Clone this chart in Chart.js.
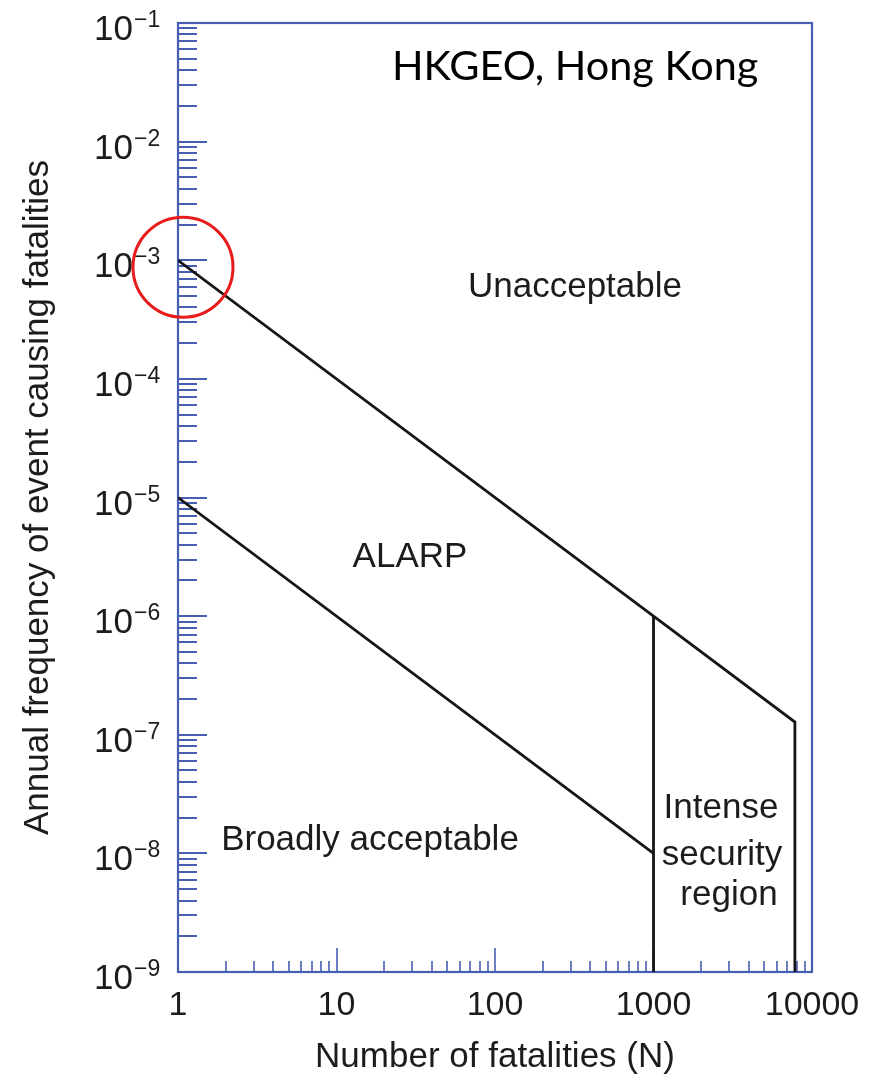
<!DOCTYPE html>
<html><head><meta charset="utf-8">
<script src="https://cdn.jsdelivr.net/npm/chart.js@4/dist/chart.umd.min.js"></script>
<style>html,body{margin:0;padding:0;background:#fff}canvas{display:block}</style>
</head><body>
<canvas id="c" width="889" height="1080" style="width:889px;height:1080px"></canvas>
<script>
// ---- data ----
const xTickValues = [1, 10, 100, 1000, 10000];
const xTickLabels = ['1', '10', '100', '1000', '10000'];
const yTickExponents = [-9, -8, -7, -6, -5, -4, -3, -2, -1];
const upperN = [1, 1000, 7800, 7800];
const upperF = [1e-3, 1e-6, 1.28e-7, 1e-9];
const lowerN = [1, 1000];
const lowerF = [1e-5, 1e-8];
const dividerN = [1000, 1000];
const dividerF = [1e-6, 1e-9];
const highlightN = [1];
const highlightF = [1e-3];
const regionLabels = ['Unacceptable', 'ALARP', 'Broadly acceptable', 'Intense', 'security', 'region'];
const sourceLabel = 'HKGEO, Hong Kong';
const xTitle = 'Number of fatalities (N)';
const yTitle = 'Annual frequency of event causing fatalities';

// ---- layout / style ----
const labelPos = [[575, 297], [410, 567], [370, 850], [721, 818], [722, 865], [729, 905]];
const axisColor = 'rgb(72,94,178)';
const textColor = '#1c1c1c';
const lineColor = '#161616';
const mainFont = '"Liberation Sans", Arial, Helvetica, sans-serif';

const toPts = (xs, ys) => xs.map((x, i) => ({x: x, y: ys[i]}));

const overlay = {
  id: 'overlay',
  beforeDatasetsDraw(chart) {
    const {ctx, chartArea: ca} = chart;
    const xs = chart.scales.x, ys = chart.scales.y;
    ctx.save();
    ctx.strokeStyle = axisColor;
    // left axis ticks (inside)
    ctx.lineWidth = 2;
    const yMin = yTickExponents[0], yMax = yTickExponents[yTickExponents.length - 1];
    for (let e = yMin; e <= yMax; e++) {
      for (let k = 1; k <= 9; k++) {
        if (e === yMax && k > 1) break;
        const v = k * Math.pow(10, e);
        const py = Math.round(ys.getPixelForValue(v));
        const len = k === 1 ? 29 : 19;
        ctx.beginPath();
        ctx.moveTo(ca.left, py);
        ctx.lineTo(ca.left + len, py);
        ctx.stroke();
      }
    }
    // bottom axis ticks (inside)
    ctx.lineWidth = 1.6;
    for (let e = 0; e <= 4; e++) {
      for (let k = 1; k <= 9; k++) {
        if (e === 4 && k > 1) break;
        const v = k * Math.pow(10, e);
        const px = Math.round(xs.getPixelForValue(v));
        const len = k === 1 ? 24 : 11;
        ctx.beginPath();
        ctx.moveTo(px, ca.bottom);
        ctx.lineTo(px, ca.bottom - len);
        ctx.stroke();
      }
    }
    // frame
    ctx.lineWidth = 2.2;
    ctx.strokeRect(ca.left, ca.top, ca.right - ca.left, ca.bottom - ca.top);
    ctx.restore();
  },
  afterDraw(chart) {
    const {ctx, chartArea: ca} = chart;
    const xs = chart.scales.x, ys = chart.scales.y;
    ctx.save();
    // y tick labels with superscript exponents
    ctx.fillStyle = textColor;
    for (const e of yTickExponents) {
      const py = ys.getPixelForValue(Math.pow(10, e));
      const xr = ca.left - 45;
      ctx.font = '35px ' + mainFont;
      ctx.textAlign = 'right';
      ctx.textBaseline = 'alphabetic';
      ctx.fillText('10', xr, py + 17);
      ctx.font = '23px ' + mainFont;
      ctx.textAlign = 'left';
      ctx.fillText('\u2212' + Math.abs(e), xr + 1, py + 4);
    }
    // region labels
    ctx.font = '35px ' + mainFont;
    ctx.textAlign = 'center';
    ctx.textBaseline = 'alphabetic';
    regionLabels.forEach((t, i) => ctx.fillText(t, labelPos[i][0], labelPos[i][1]));
    // source label
    ctx.font = '47px Lato, "Open Sans", sans-serif';
    const w = ctx.measureText(sourceLabel).width;
    const fs = 47 * 366 / w;
    ctx.font = fs.toFixed(1) + 'px Lato, "Open Sans", sans-serif';
    ctx.textAlign = 'left';
    ctx.fillStyle = '#000';
    ctx.fillText(sourceLabel, 392, 80);
    // highlight circle
    const cx = xs.getPixelForValue(highlightN[0]) + 5;
    const cy = ys.getPixelForValue(highlightF[0]) + 7;
    ctx.strokeStyle = 'rgb(232,28,28)';
    ctx.lineWidth = 3;
    ctx.beginPath();
    ctx.arc(cx, cy, 50, 0, Math.PI * 2);
    ctx.stroke();
    ctx.restore();
  }
};

new Chart(document.getElementById('c'), {
  type: 'scatter',
  data: {
    datasets: [
      {label: 'Upper limit', data: toPts(upperN, upperF)},
      {label: 'Divider', data: toPts(dividerN, dividerF)},
      {label: 'Lower limit', data: toPts(lowerN, lowerF)}
    ].map(d => Object.assign(d, {showLine: true, borderColor: lineColor, borderWidth: 2.8, pointRadius: 0, fill: false, tension: 0}))
  },
  options: {
    responsive: false,
    animation: false,
    devicePixelRatio: 1,
    layout: {padding: {top: 23, right: 77, left: 0, bottom: 0}},
    plugins: {legend: {display: false}, tooltip: {enabled: false}},
    scales: {
      x: {
        type: 'logarithmic', position: 'bottom', min: 1, max: 10000,
        afterBuildTicks: s => { s.ticks = xTickValues.map(v => ({value: v})); },
        afterFit: s => { s.height = 108; },
        ticks: {
          autoSkip: false, maxRotation: 0, padding: 13, color: textColor,
          font: {family: mainFont, size: 34},
          callback: (v) => xTickLabels[xTickValues.indexOf(v)] ?? ''
        },
        grid: {display: false, drawTicks: false},
        border: {display: true, color: axisColor, width: 2},
        title: {display: true, text: xTitle, color: textColor, font: {family: mainFont, size: 35}, padding: {top: 0, bottom: 2}}
      },
      y: {
        type: 'logarithmic', position: 'left', min: 1e-9, max: 1e-1,
        afterBuildTicks: s => { s.ticks = yTickExponents.map(e => ({value: Math.pow(10, e)})); },
        afterFit: s => { s.width = 178; },
        ticks: {display: false},
        grid: {display: false, drawTicks: false},
        border: {display: true, color: axisColor, width: 2},
        title: {display: true, text: yTitle, color: textColor, font: {family: mainFont, size: 35}, padding: {top: 17, bottom: 0}}
      }
    }
  },
  plugins: [overlay]
});
</script>
</body></html>
